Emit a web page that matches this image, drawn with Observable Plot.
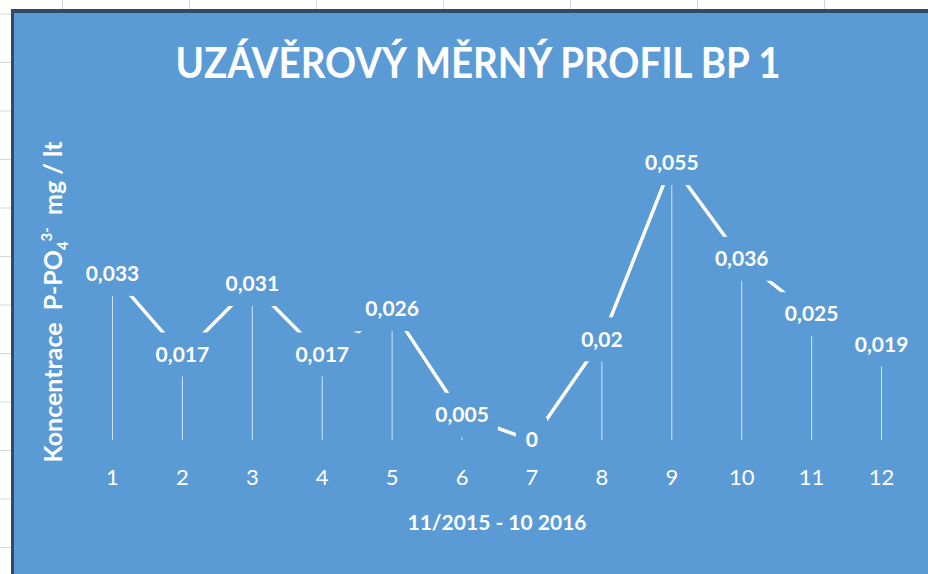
<!DOCTYPE html>
<html>
<head>
<meta charset="utf-8">
<script src="https://cdn.jsdelivr.net/npm/d3@7"></script>
<script src="https://cdn.jsdelivr.net/npm/@observablehq/plot@0.6"></script>
<style>
  html, body { margin: 0; padding: 0; }
  body {
    width: 928px; height: 574px; overflow: hidden; position: relative;
    background-color: #ffffff;
    background-image:
      linear-gradient(#d6d6d6 1px, transparent 1px),
      linear-gradient(90deg, #d6d6d6 1px, transparent 1px);
    background-size: 127px 48.5px;
    background-position: 62px 13.5px;
  }
  #chart {
    position: absolute; left: 11px; top: 9px;
    border-left: 3px solid #2f4b68; border-top: 4px solid #2f4b68;
    background: #5B9BD5; width: 920px; height: 570px; overflow: hidden;
  }
  #chart svg { display: block; }
</style>
</head>
<body>
<div id="chart"></div>
<script>
// ---- data ----
const months = [1, 2, 3, 4, 5, 6, 7, 8, 9, 10, 11, 12];
const tickLabels = ["1", "2", "3", "4", "5", "6", "7", "8", "9", "10", "11", "12"];
const values = [0.033, 0.017, 0.031, 0.017, 0.026, 0.005, 0, 0.02, 0.055, 0.036, 0.025, 0.019];
const valueLabels = ["0,033", "0,017", "0,031", "0,017", "0,026", "0,005", "0", "0,02", "0,055", "0,036", "0,025", "0,019"];
const title = "UZÁVĚROVÝ MĚRNÝ PROFIL BP 1";
const xTitle = "11/2015 - 10 2016";

const data = months.map((m, i) => ({ month: m, value: values[i], label: valueLabels[i] }));

const BLUE = "#5B9BD5";
const W = 914, H = 561;
const LABEL_FONT = "bold 21px Lato";

// measure label widths for the label background boxes
const ctx = document.createElement("canvas").getContext("2d");
ctx.font = LABEL_FONT;
const halfW = d => ctx.measureText(d.label).width / 2 + 9.5;

const labelBoxes = data.map(d => Plot.rect([d], {
  x1: "month", x2: "month", y1: "value", y2: "value",
  insetLeft: -halfW(d), insetRight: -halfW(d), insetTop: -22, insetBottom: -22,
  fill: BLUE
}));

const plot = Plot.plot({
  width: W,
  height: H,
  marginLeft: 63,
  marginRight: 12,
  marginTop: 125,
  marginBottom: 134,
  style: { background: "transparent", color: "white", fontFamily: "Lato, sans-serif", overflow: "visible" },
  x: { domain: [0.5, 12.5], axis: null },
  y: { domain: [0, 0.06], axis: null },
  marks: [
    Plot.ruleX(data, { x: "month", y1: 0, y2: "value", stroke: "white", strokeOpacity: 0.75, strokeWidth: 1 }),
    Plot.line(data, { x: "month", y: "value", stroke: "white", strokeWidth: 3.5 }),
    ...labelBoxes,
    Plot.text(data, {
      x: "month", y: "value", text: "label",
      fill: "white", fontSize: 21, fontWeight: "bold", fontFamily: "Lato, sans-serif"
    }),
    Plot.axisX({
      ticks: months, tickFormat: d => tickLabels[months.indexOf(d)], label: null,
      tickSize: 0, tickPadding: 29, fontSize: 22, fontFamily: "Lato, sans-serif", fill: "white"
    })
  ]
});

document.getElementById("chart").appendChild(plot);

const svg = d3.select(plot);

// Title
svg.append("text")
  .attr("x", 464).attr("y", 65)
  .attr("text-anchor", "middle")
  .attr("fill", "white")
  .attr("font-family", "Lato, sans-serif")
  .attr("font-weight", "bold")
  .attr("font-size", 42)
  .attr("textLength", 605)
  .attr("lengthAdjust", "spacingAndGlyphs")
  .text(title);

// X axis title
svg.append("text")
  .attr("x", 483).attr("y", 517)
  .attr("text-anchor", "middle")
  .attr("fill", "white")
  .attr("font-family", "Lato, sans-serif")
  .attr("font-weight", "bold")
  .attr("font-size", 21)
  .text(xTitle);

// Y axis title with subscript / superscript
const yt = svg.append("text")
  .attr("transform", "translate(48,289) rotate(-90)")
  .attr("text-anchor", "middle")
  .attr("fill", "white")
  .attr("font-family", "Lato, sans-serif")
  .attr("font-weight", "bold")
  .attr("font-size", 25)
  .style("white-space", "pre");
yt.append("tspan").text("Koncentrace  P-PO");
yt.append("tspan").attr("font-size", 15).attr("dy", 6).text("4");
yt.append("tspan").attr("font-size", 15).attr("dy", -16).text("3-");
yt.append("tspan").attr("dy", 10).text("  mg / lt");
</script>
</body>
</html>
